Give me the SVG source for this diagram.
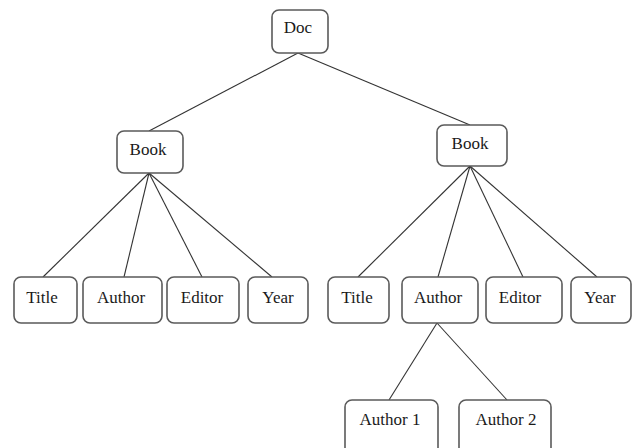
<svg xmlns="http://www.w3.org/2000/svg" width="638" height="448" viewBox="0 0 638 448">
  <style>
    .box { fill: #ffffff; stroke: #5a5a5a; stroke-width: 1.6; }
    .lbl { font-family: "Liberation Serif", "Times New Roman", Times, serif; font-size: 17px; fill: #1a1a1a; text-anchor: middle; }
    .edge { stroke: #333333; stroke-width: 1.1; fill: none; }
  </style>
  <rect width="638" height="448" fill="#ffffff"/>

  <!-- tree edges: parent bottom-centre to child top -->
  <g id="connectors">
    <line class="edge" x1="298" y1="53" x2="149" y2="131"/>
    <line class="edge" x1="298" y1="53" x2="470" y2="125"/>
    <line class="edge" x1="149" y1="173" x2="43" y2="277"/>
    <line class="edge" x1="149" y1="173" x2="124" y2="277"/>
    <line class="edge" x1="149" y1="173" x2="202" y2="277"/>
    <line class="edge" x1="149" y1="173" x2="272" y2="277"/>
    <line class="edge" x1="470" y1="166" x2="358" y2="277"/>
    <line class="edge" x1="470" y1="166" x2="438" y2="277"/>
    <line class="edge" x1="470" y1="166" x2="523" y2="277"/>
    <line class="edge" x1="470" y1="166" x2="597" y2="277"/>
    <line class="edge" x1="437" y1="323" x2="389" y2="400"/>
    <line class="edge" x1="437" y1="323" x2="507" y2="400"/>
  </g>

  <g id="doc">
    <rect class="box" x="272" y="10" width="56" height="43" rx="7"/>
    <text class="lbl" x="298" y="33">Doc</text>
  </g>

  <g id="book1">
    <rect class="box" x="117" y="131" width="66" height="42" rx="7"/>
    <text class="lbl" x="148" y="155">Book</text>
  </g>
  <g id="book2">
    <rect class="box" x="437" y="125" width="70" height="41" rx="7"/>
    <text class="lbl" x="470" y="149">Book</text>
  </g>

  <g id="title1">
    <rect class="box" x="14" y="277" width="63" height="46" rx="7"/>
    <text class="lbl" x="42" y="303">Title</text>
  </g>
  <g id="author1">
    <rect class="box" x="83" y="277" width="79" height="46" rx="7"/>
    <text class="lbl" x="121" y="303">Author</text>
  </g>
  <g id="editor1">
    <rect class="box" x="167" y="277" width="72" height="46" rx="7"/>
    <text class="lbl" x="202" y="303">Editor</text>
  </g>
  <g id="year1">
    <rect class="box" x="248" y="277" width="60" height="46" rx="7"/>
    <text class="lbl" x="278" y="303">Year</text>
  </g>

  <g id="title2">
    <rect class="box" x="328" y="277" width="61" height="46" rx="7"/>
    <text class="lbl" x="357" y="303">Title</text>
  </g>
  <g id="author2">
    <rect class="box" x="402" y="277" width="76" height="46" rx="7"/>
    <text class="lbl" x="438" y="303">Author</text>
  </g>
  <g id="editor2">
    <rect class="box" x="486" y="277" width="76" height="46" rx="7"/>
    <text class="lbl" x="520" y="303">Editor</text>
  </g>
  <g id="year2">
    <rect class="box" x="571" y="277" width="60" height="46" rx="7"/>
    <text class="lbl" x="600" y="303">Year</text>
  </g>

  <g id="author-1">
    <rect class="box" x="345" y="400" width="93" height="56" rx="7"/>
    <text class="lbl" x="390" y="425">Author 1</text>
  </g>
  <g id="author-2">
    <rect class="box" x="459" y="400" width="92" height="56" rx="7"/>
    <text class="lbl" x="506" y="425">Author 2</text>
  </g>
</svg>
